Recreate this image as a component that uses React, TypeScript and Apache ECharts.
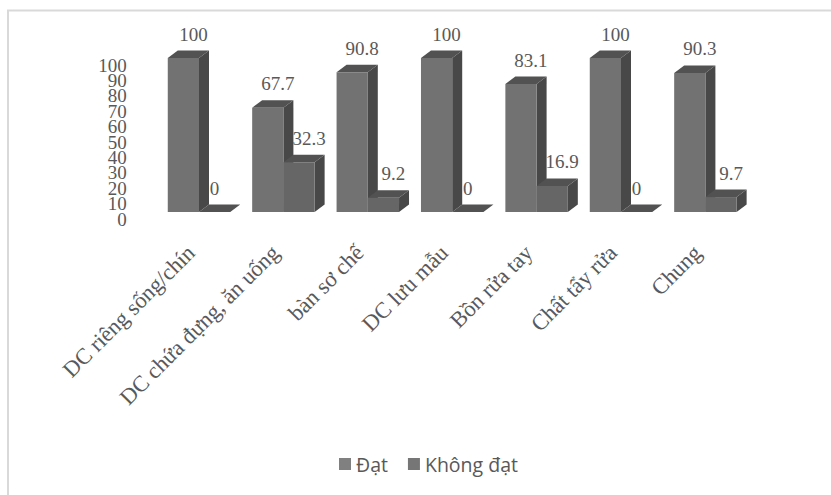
import React, { useEffect, useRef } from "react";
import * as echarts from "echarts";

const categories = [
  "DC riêng sống/chín",
  "DC chứa đựng, ăn uống",
  "bàn sơ chế",
  "DC lưu mẫu",
  "Bồn rửa tay",
  "Chất tẩy rửa",
  "Chung",
];
const datValues = [100, 67.7, 90.8, 100, 83.1, 100, 90.3];
const khongDatValues = [0, 32.3, 9.2, 0, 16.9, 0, 9.7];

const SERIF = "'Liberation Serif', 'Times New Roman', serif";
const DEPTH_X = 10;
const DEPTH_Y = 7.5;
// Columns stand on a floor that sits up and to the right of the axis origin.
const FLOOR_LIFT = 7;
const FLOOR_SHIFT = 8;
const BAR_SHARE = 0.37;

// Extruded column: front face, top face, side face and a value label above.
function makeRenderItem(slot: number, frontColor: string, topColor: string, sideColor: string) {
  return (_params: any, api: any) => {
    const catIndex = api.value(0);
    const value = api.value(1);
    const [cx, yTopRaw] = api.coord([catIndex, value]);
    const [, yBaseRaw] = api.coord([catIndex, 0]);
    const yTop = yTopRaw - FLOOR_LIFT;
    const yBase = yBaseRaw - FLOOR_LIFT;
    const barW = api.size([1, 0])[0] * BAR_SHARE;
    const x0 = cx + FLOOR_SHIFT + (slot - 1) * barW;
    const x1 = x0 + barW;
    const poly = (points: number[][], fill: string) => ({
      type: "polygon",
      shape: { points },
      style: { fill },
    });
    const labelShift = value === 0 ? -10 : 0;
    return {
      type: "group",
      children: [
        poly([[x1, yTop], [x1 + DEPTH_X, yTop - DEPTH_Y], [x1 + DEPTH_X, yBase - DEPTH_Y], [x1, yBase]], sideColor),
        poly([[x0, yTop], [x0 + DEPTH_X, yTop - DEPTH_Y], [x1 + DEPTH_X, yTop - DEPTH_Y], [x1, yTop]], topColor),
        { type: "rect", shape: { x: x0, y: yTop, width: barW, height: yBase - yTop }, style: { fill: frontColor } },
        {
          type: "text",
          z2: 100,
          style: {
            x: (x0 + x1) / 2 + DEPTH_X + labelShift,
            y: yTop - DEPTH_Y - 16.5,
            text: String(value),
            fill: "#595959",
            font: `19px ${SERIF}`,
            align: "center",
            verticalAlign: "middle",
          },
        },
      ],
    };
  };
}

// The tick labels are packed tightly, so the end labels live on their own axis
// to keep the automatic overlap handling from dropping any of them.
const valueAxisBase = {
  type: "value",
  position: "left",
  min: 0,
  max: 100,
  axisLine: { show: false },
  axisTick: { show: false },
  splitLine: { show: false },
};
const valueLabelBase = {
  margin: 22,
  lineHeight: 14,
  fontFamily: SERIF,
  fontSize: 19,
  color: "#595959",
};

export default function App() {
  const ref = useRef<HTMLDivElement>(null);

  useEffect(() => {
    const chart = echarts.init(ref.current!, undefined, { renderer: "svg" });
    chart.setOption({
      animation: false,
      backgroundColor: "#ffffff",
      grid: { left: 148.8, top: 65, width: 590.8, height: 154, containLabel: false },
      legend: {
        left: 334,
        top: 449,
        itemWidth: 12,
        itemHeight: 12,
        itemGap: 20,
        icon: "rect",
        data: ["Đạt", "Không đạt"],
        textStyle: { fontFamily: "'Open Sans', sans-serif", fontSize: 19.5, color: "#595959" },
      },
      xAxis: {
        type: "category",
        data: categories,
        axisLine: { show: false },
        axisTick: { show: false },
        axisLabel: {
          interval: 0,
          rotate: 45,
          margin: 30,
          hideOverlap: false,
          fontFamily: SERIF,
          fontSize: 22.5,
          color: "#595959",
        },
      },
      yAxis: [
        {
          ...valueAxisBase,
          interval: 10,
          axisLabel: { ...valueLabelBase, showMinLabel: false, showMaxLabel: false },
        },
        {
          ...valueAxisBase,
          interval: 100,
          axisLabel: { ...valueLabelBase, showMinLabel: true, showMaxLabel: true },
        },
      ],
      series: [
        {
          name: "Đạt",
          type: "custom",
          renderItem: makeRenderItem(0, "#727272", "#525252", "#484848"),
          encode: { x: 0, y: 1 },
          itemStyle: { color: "#808080" },
          data: datValues.map((v, i) => [i, v]),
        },
        {
          name: "Không đạt",
          type: "custom",
          renderItem: makeRenderItem(1, "#666666", "#525252", "#484848"),
          encode: { x: 0, y: 1 },
          itemStyle: { color: "#767676" },
          data: khongDatValues.map((v, i) => [i, v]),
        },
      ],
      graphic: [
        { type: "line", shape: { x1: 7, y1: 10.5, x2: 831, y2: 10.5 }, style: { stroke: "#d9d9d9", lineWidth: 2 } },
        { type: "line", shape: { x1: 8, y1: 10, x2: 8, y2: 495 }, style: { stroke: "#d9d9d9", lineWidth: 2 } },
      ],
    });
    return () => chart.dispose();
  }, []);

  return <div ref={ref} style={{ position: "fixed", left: 0, top: 0, width: 831, height: 495 }} />;
}
